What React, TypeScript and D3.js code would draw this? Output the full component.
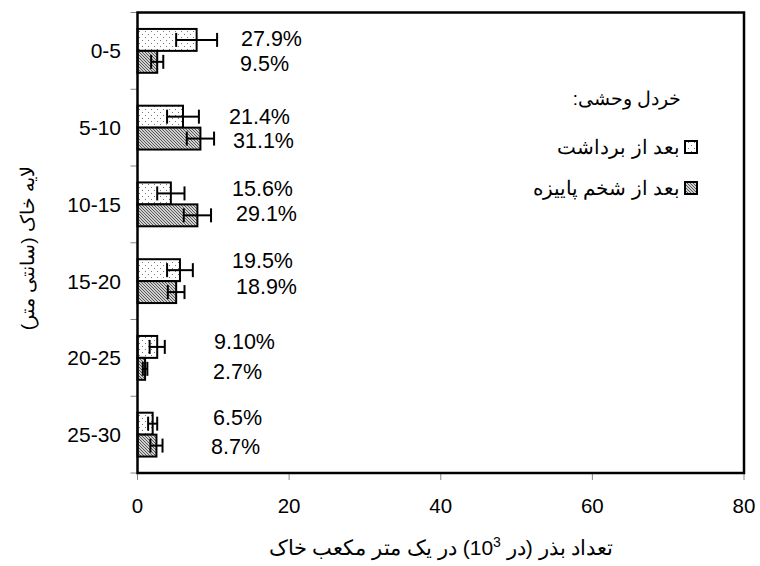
import React from 'react';
import * as d3 from 'd3';

const layers = ['0-5', '5-10', '10-15', '15-20', '20-25', '25-30'];
const series = ['afterHarvest', 'afterPlow'];
const harvest = [7.8, 6.0, 4.4, 5.6, 2.6, 2.0];
const harvestErr = [2.7, 2.1, 1.8, 1.7, 1.0, 0.6];
const plow = [2.6, 8.3, 7.9, 5.1, 1.0, 2.5];
const plowErr = [0.8, 1.8, 1.8, 1.1, 0.3, 0.8];
const harvestPct = ['27.9%', '21.4%', '15.6%', '19.5%', '9.10%', '6.5%'];
const plowPct = ['9.5%', '31.1%', '29.1%', '18.9%', '2.7%', '8.7%'];
const xTicks = [0, 20, 40, 60, 80];
const legendTitle = 'خردل وحشی:';
const legendLabels = ['بعد از برداشت', 'بعد از شخم پاییزه'];
const yTitle = 'لایه خاک (سانتی متر)';

// annotation layout (pixels)
const harvestLabelX = [241, 229, 232, 232, 214, 213];
const plowLabelX = [240, 233, 236, 236, 213, 211];
const harvestLabelDy = [-1, 0, -4.5, -9, -4.5, -5.5];
const plowLabelDy = [2.5, 2, -1.5, -5, 3.5, 1];

const W = 760, H = 566;
const M = { left: 137.5, right: 744, top: 12.5, bottom: 473 };
const FONT = 'Liberation Sans, Arial, sans-serif';

export default function App() {
  const x = d3.scaleLinear().domain([0, 80]).range([M.left, M.right]);
  const y = d3.scaleBand<string>().domain(layers).range([M.top, M.bottom]).padding(0);
  const sub = d3.scaleBand<string>().domain(series).range([0, y.step()]).paddingInner(0).paddingOuter(0.75);
  const bh = sub.bandwidth();

  const bars: any[] = [];
  layers.forEach((l, i) => {
    [
      { s: 'afterHarvest', v: harvest[i], e: harvestErr[i], fill: 'url(#dots)', lab: harvestPct[i], lx: harvestLabelX[i], dy: harvestLabelDy[i] },
      { s: 'afterPlow', v: plow[i], e: plowErr[i], fill: 'url(#hatch)', lab: plowPct[i], lx: plowLabelX[i], dy: plowLabelDy[i] },
    ].forEach((b) => {
      const y0 = (y(l) as number) + (sub(b.s) as number);
      const cy = y0 + bh / 2;
      bars.push(
        <g key={l + b.s}>
          <rect x={x(0)} y={y0} width={x(b.v) - x(0)} height={bh} fill={b.fill} stroke="#000" strokeWidth={2} />
          <line x1={x(b.v - b.e)} x2={x(b.v + b.e)} y1={cy} y2={cy} stroke="#000" strokeWidth={2} />
          <line x1={x(b.v - b.e)} x2={x(b.v - b.e)} y1={cy - 7} y2={cy + 7} stroke="#000" strokeWidth={2} />
          <line x1={x(b.v + b.e)} x2={x(b.v + b.e)} y1={cy - 7} y2={cy + 7} stroke="#000" strokeWidth={2} />
          <text x={b.lx} y={cy + b.dy} dominantBaseline="central" fontSize={21.5} fontFamily={FONT} fill="#000">{b.lab}</text>
        </g>
      );
    });
  });

  return (
    <svg width={W} height={H} style={{ position: 'absolute', left: 0, top: 0, background: '#fff' }}>
      <defs>
        <pattern id="dots" patternUnits="userSpaceOnUse" width={6} height={6}>
          <rect width={6} height={6} fill="#fff" />
          <rect x={1} y={1} width={1} height={1} fill="#777" />
          <rect x={4} y={4} width={1} height={1} fill="#777" />
        </pattern>
        <pattern id="hatch" patternUnits="userSpaceOnUse" width={3} height={3}>
          <rect width={3} height={3} fill="#d0d0d0" />
          <path d="M-1,-1 L4,4 M-1,2 L1,4 M2,-1 L4,1" stroke="#4a4a4a" strokeWidth={0.9} />
        </pattern>
      </defs>
      <rect width={W} height={H} fill="#fff" />

      {/* y ticks */}
      {d3.range(layers.length + 1).map((i) => {
        const yy = M.top + i * y.step();
        return <line key={'yt' + i} x1={M.left - 7} x2={M.left} y1={yy} y2={yy} stroke="#888" strokeWidth={1} />;
      })}
      {/* x ticks */}
      {xTicks.map((t) => (
        <g key={'xt' + t}>
          <line x1={x(t)} x2={x(t)} y1={M.bottom} y2={M.bottom + 7} stroke="#888" strokeWidth={1} />
          <text x={x(t)} y={513} textAnchor="middle" fontSize={20.5} fontFamily={FONT}>{t}</text>
        </g>
      ))}
      {layers.map((l) => (
        <text key={'yl' + l} x={121} y={(y(l) as number) + y.bandwidth() / 2} textAnchor="end" dominantBaseline="central" fontSize={21} fontFamily={FONT}>{l}</text>
      ))}

      {bars}

      <rect x={M.left} y={M.top} width={M.right - M.left} height={M.bottom - M.top} fill="none" stroke="#000" strokeWidth={2.5} />

      {/* legend */}
      <text x={681} y={98} direction="rtl" textAnchor="start" dominantBaseline="central" fontSize={18.5} fontFamily={FONT}>{legendTitle}</text>
      {legendLabels.map((lab, i) => {
        const cy = 147 + i * 41;
        return (
          <g key={'lg' + i}>
            <rect x={685} y={cy - 6} width={12} height={12} fill={i === 0 ? 'url(#dots)' : 'url(#hatch)'} stroke="#000" strokeWidth={2} />
            <text x={680} y={cy} direction="rtl" textAnchor="start" dominantBaseline="central" fontSize={19.5} fontFamily={FONT}>{lab}</text>
          </g>
        );
      })}

      {/* axis titles */}
      <text x={441} y={555} textAnchor="middle" direction="rtl" fontSize={21} fontFamily={FONT}>
        تعداد بذر (در 10<tspan baselineShift="super" fontSize={14}>3</tspan>) در یک متر مکعب خاک
      </text>
      <text transform="translate(27,248) rotate(-90)" textAnchor="middle" direction="rtl" dominantBaseline="central" fontSize={19} fontFamily={FONT}>{yTitle}</text>
    </svg>
  );
}
